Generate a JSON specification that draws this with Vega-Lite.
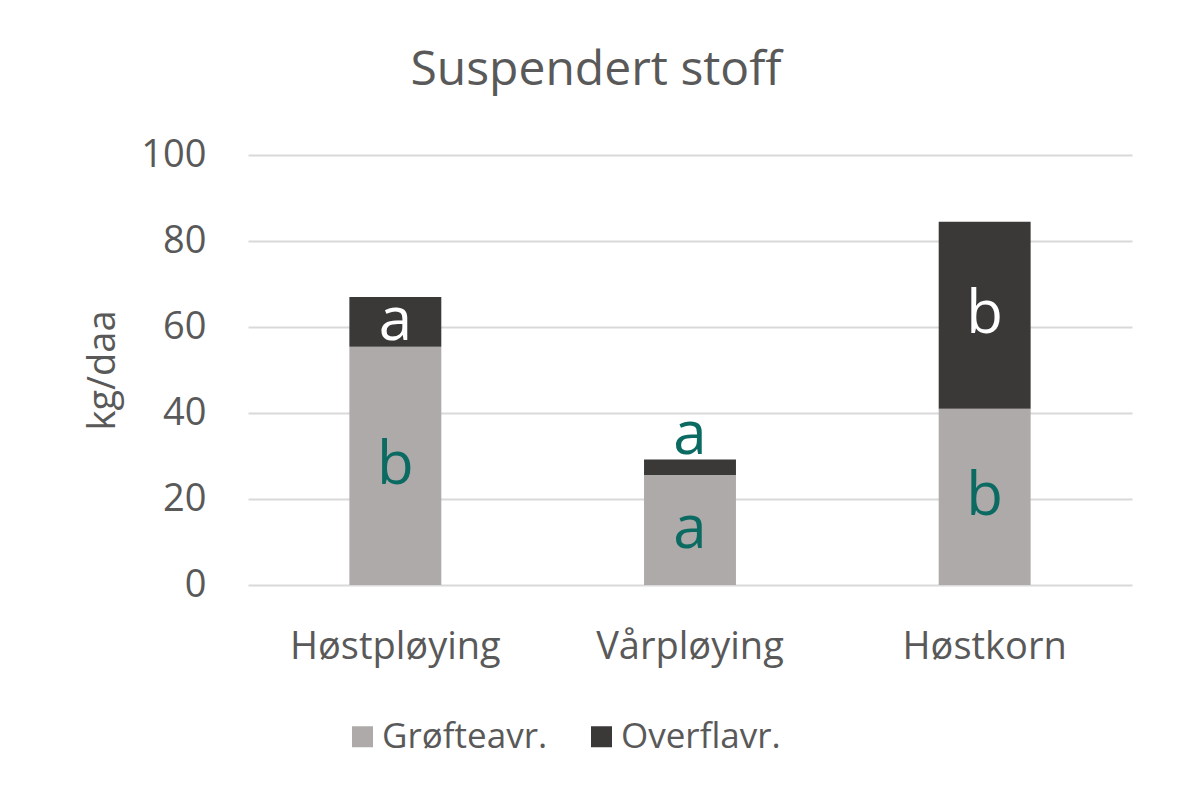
{
  "$schema": "https://vega.github.io/schema/vega-lite/v6.json",
  "width": 884,
  "height": 430,
  "autosize": {"type": "none"},
  "padding": {"left": 248, "top": 155, "right": 54, "bottom": 210},
  "background": "white",
  "config": {
    "font": "Open Sans",
    "view": {"stroke": null}
  },
  "title": {
    "text": "Suspendert stoff",
    "fontSize": 48,
    "fontWeight": "normal",
    "color": "#595959",
    "anchor": "middle",
    "frame": "group",
    "dx": -94,
    "baseline": "alphabetic",
    "offset": 3
  },
  "data": {
    "values": [
      {"cat": "Høstpløying", "type": "Grøfteavr.", "value": 55.4, "sig": "b"},
      {"cat": "Høstpløying", "type": "Overflavr.", "value": 11.6, "sig": "a"},
      {"cat": "Vårpløying", "type": "Grøfteavr.", "value": 25.6, "sig": "a"},
      {"cat": "Vårpløying", "type": "Overflavr.", "value": 3.6, "sig": "a"},
      {"cat": "Høstkorn", "type": "Grøfteavr.", "value": 41.0, "sig": "b"},
      {"cat": "Høstkorn", "type": "Overflavr.", "value": 43.5, "sig": "b"}
    ]
  },
  "encoding": {
    "x": {
      "field": "cat",
      "type": "nominal",
      "sort": ["Høstpløying", "Vårpløying", "Høstkorn"],
      "scale": {"paddingInner": 0.688, "paddingOuter": 0.344},
      "axis": {
        "title": null,
        "labelAngle": 0,
        "labelFontSize": 38,
        "labelColor": "#595959",
        "labelPadding": 43,
        "labelLimit": 400,
        "ticks": false,
        "domain": false
      }
    }
  },
  "layer": [
    {
      "mark": {"type": "bar"},
      "encoding": {
        "y": {
          "field": "value",
          "type": "quantitative",
          "stack": "zero",
          "scale": {"domain": [0, 100]},
          "axis": {
            "title": "kg/daa",
            "titleFontSize": 38,
            "titleFontWeight": "normal",
            "titleColor": "#595959",
            "titlePadding": 18,
            "values": [0, 20, 40, 60, 80, 100],
            "labelFontSize": 38,
            "labelColor": "#595959",
            "labelPadding": 42,
            "ticks": false,
            "domain": false,
            "gridColor": "#d9d9d9",
            "gridWidth": 2
          }
        },
        "color": {
          "field": "type",
          "type": "nominal",
          "scale": {"domain": ["Grøfteavr.", "Overflavr."], "range": ["#aeaaaa", "#3b3838"]},
          "legend": {
            "title": null,
            "orient": "none",
            "direction": "horizontal",
            "legendX": 97,
            "legendY": 564,
            "symbolType": "square",
            "symbolSize": 441,
            "symbolStrokeWidth": 0,
            "labelFontSize": 35,
            "labelColor": "#595959",
            "labelOffset": 2,
            "columnPadding": 36,
            "labelLimit": 400
          }
        },
        "order": {"field": "type", "sort": "ascending"}
      }
    },
    {
      "transform": [
        {"stack": "value", "groupby": ["cat"], "sort": [{"field": "type", "order": "ascending"}], "as": ["v0", "v1"]},
        {"calculate": "(datum.v0 + datum.v1) / 2", "as": "mid"},
        {"filter": "datum.v1 - datum.v0 > 8"}
      ],
      "mark": {"type": "text", "fontSize": 60, "baseline": "middle"},
      "encoding": {
        "y": {"field": "mid", "type": "quantitative"},
        "text": {"field": "sig"},
        "color": {"condition": {"test": "datum.type === 'Overflavr.'", "value": "white"}, "value": "#0b6a61"}
      }
    },
    {
      "transform": [
        {"stack": "value", "groupby": ["cat"], "sort": [{"field": "type", "order": "ascending"}], "as": ["v0", "v1"]},
        {"filter": "datum.v1 - datum.v0 <= 8"}
      ],
      "mark": {"type": "text", "fontSize": 60, "baseline": "alphabetic", "dy": -5, "color": "#0b6a61"},
      "encoding": {
        "y": {"field": "v1", "type": "quantitative"},
        "text": {"field": "sig"}
      }
    }
  ]
}
